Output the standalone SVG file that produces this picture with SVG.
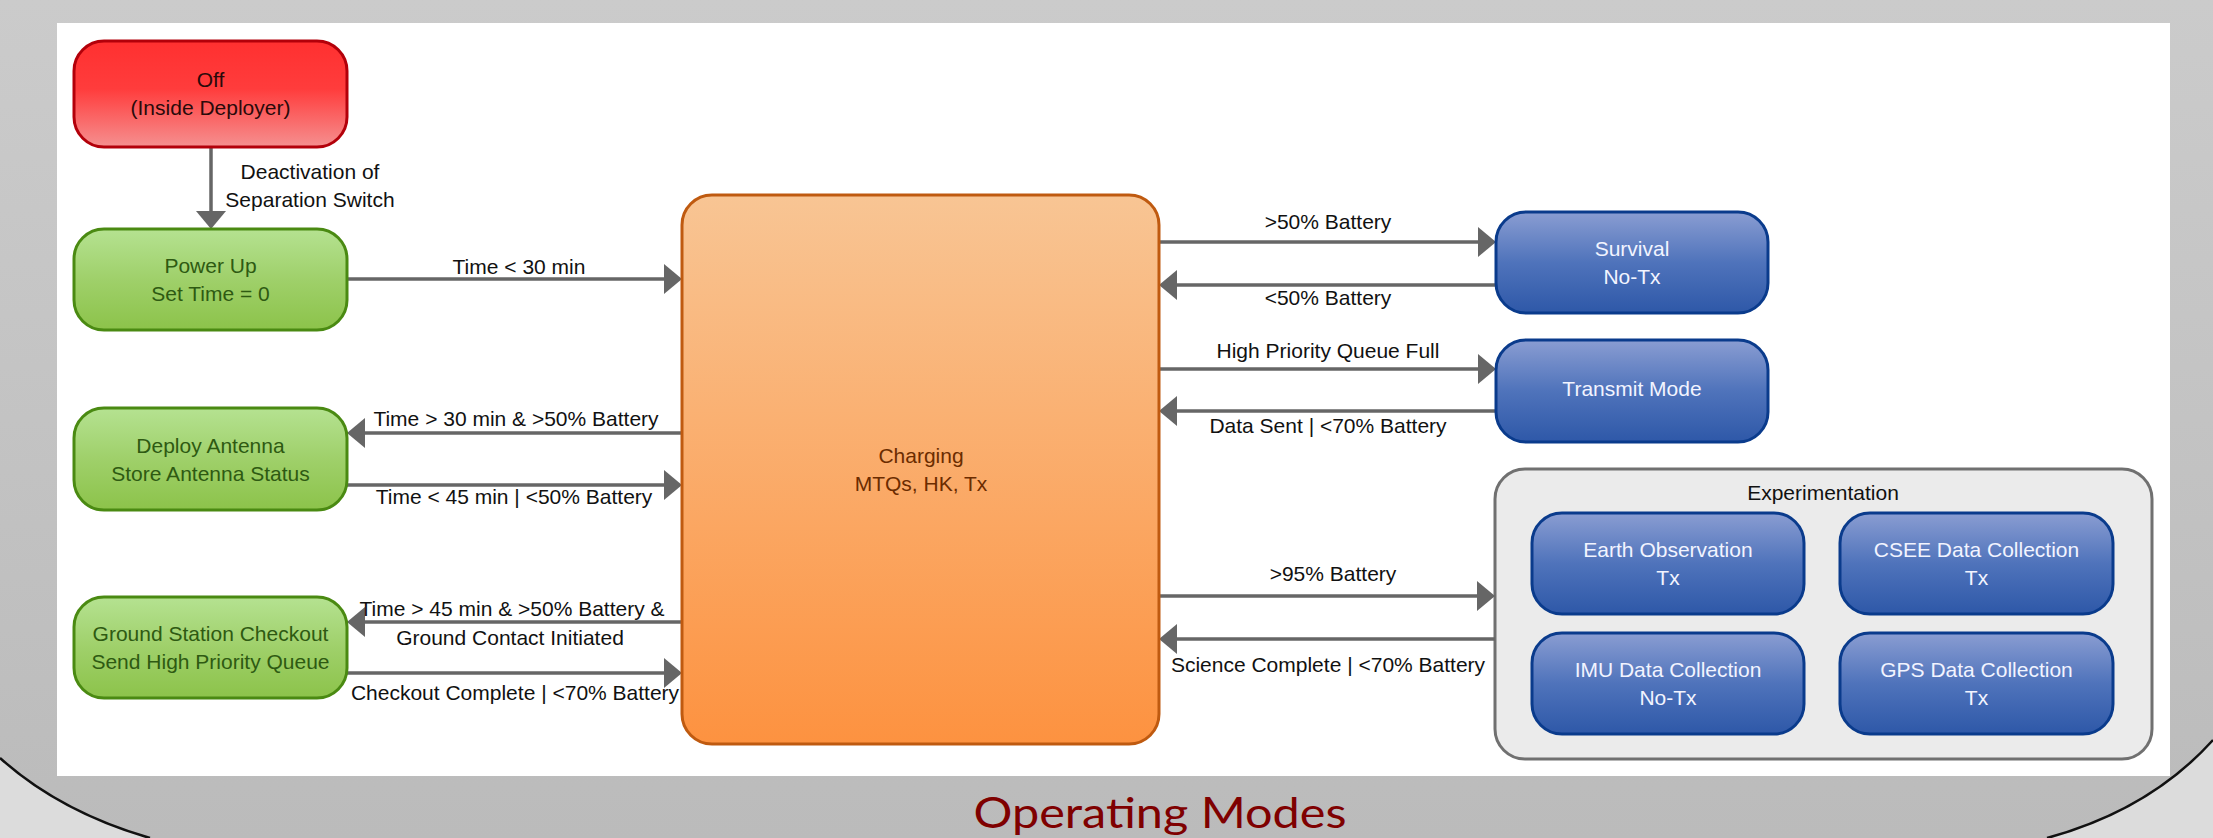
<svg xmlns="http://www.w3.org/2000/svg" width="2213" height="838" viewBox="0 0 2213 838">
<defs>
<linearGradient id="bg" x1="0" y1="0" x2="0" y2="1"><stop offset="0" stop-color="#cbcbcb"/><stop offset="1" stop-color="#bbbbbb"/></linearGradient>
<linearGradient id="gRed" x1="0" y1="0" x2="0" y2="1"><stop offset="0" stop-color="#ff3030"/><stop offset="0.45" stop-color="#ff3c3c"/><stop offset="1" stop-color="#f59090"/></linearGradient>
<linearGradient id="gGreen" x1="0" y1="0" x2="0" y2="1"><stop offset="0" stop-color="#b5e291"/><stop offset="0.5" stop-color="#9fd06a"/><stop offset="1" stop-color="#8cc34a"/></linearGradient>
<linearGradient id="gOrange" x1="0" y1="0" x2="0" y2="1"><stop offset="0" stop-color="#f8c594"/><stop offset="1" stop-color="#fd9240"/></linearGradient>
<linearGradient id="gBlue" x1="0" y1="0" x2="0" y2="1"><stop offset="0" stop-color="#8a9dd2"/><stop offset="0.5" stop-color="#4f73bb"/><stop offset="1" stop-color="#2e58a8"/></linearGradient>
<style>
text{font-family:"Liberation Sans",Arial,sans-serif;font-size:21px;text-anchor:middle;fill:#111}
.n{stroke-width:3}
.red{fill:url(#gRed);stroke:#b3000a}
.green{fill:url(#gGreen);stroke:#4a8a12}
.orange{fill:url(#gOrange);stroke:#bf5a10}
.blue{fill:url(#gBlue);stroke:#0a3b8c}
.tred{fill:#2a0a0a}
.tgreen{fill:#2e5a12}
.torange{fill:#6b2c00}
.tblue{fill:#f2f4ff}
.c line{stroke:#666;stroke-width:3.5}
.c polygon{fill:#666}
</style>
</defs>
<rect x="0" y="0" width="2213" height="838" fill="url(#bg)"/>
<path d="M0,758 Q60,812 150,838 L0,838 Z" fill="#dcdcdc"/>
<path d="M0,758 Q60,812 150,838" fill="none" stroke="#111" stroke-width="2.5"/>
<path d="M2047,838 Q2150,810 2213,740 L2213,838 Z" fill="#dcdcdc"/>
<path d="M2047,838 Q2150,810 2213,740" fill="none" stroke="#111" stroke-width="2.5"/>
<rect x="57" y="23" width="2113" height="753" fill="#ffffff"/>

<g id="experimentation">
<rect x="1495" y="469" width="657" height="290" rx="30" fill="#ebebeb" stroke="#707070" stroke-width="3"/>
<text x="1823" y="500">Experimentation</text>
</g>

<g class="c" id="connectors">
<line x1="211" y1="147" x2="211" y2="212"/><polygon points="196,211 226,211 211,229"/>
<line x1="347" y1="279" x2="665" y2="279"/><polygon points="664,264 664,294 682,279"/>
<line x1="682" y1="433" x2="364" y2="433"/><polygon points="365,418 365,448 347,433"/>
<line x1="347" y1="485" x2="665" y2="485"/><polygon points="664,470 664,500 682,485"/>
<line x1="682" y1="622" x2="364" y2="622"/><polygon points="365,607 365,637 347,622"/>
<line x1="347" y1="673" x2="665" y2="673"/><polygon points="664,658 664,688 682,673"/>
<line x1="1159" y1="242" x2="1479" y2="242"/><polygon points="1478,227 1478,257 1496,242"/>
<line x1="1496" y1="285" x2="1176" y2="285"/><polygon points="1177,270 1177,300 1159,285"/>
<line x1="1159" y1="369" x2="1479" y2="369"/><polygon points="1478,354 1478,384 1496,369"/>
<line x1="1496" y1="411" x2="1176" y2="411"/><polygon points="1177,396 1177,426 1159,411"/>
<line x1="1159" y1="596" x2="1478" y2="596"/><polygon points="1477,581 1477,611 1495,596"/>
<line x1="1495" y1="639" x2="1176" y2="639"/><polygon points="1177,624 1177,654 1159,639"/>
<text x="310" y="179" style="text-anchor:middle">Deactivation of</text>
<text x="310" y="207">Separation Switch</text>
<text x="519" y="274">Time &lt; 30 min</text>
<text x="516" y="426">Time &gt; 30 min &amp; &gt;50% Battery</text>
<text x="514" y="504">Time &lt; 45 min | &lt;50% Battery</text>
<text x="512" y="616">Time &gt; 45 min &amp; &gt;50% Battery &amp;</text>
<text x="510" y="645">Ground Contact Initiated</text>
<text x="515" y="700">Checkout Complete | &lt;70% Battery</text>
<text x="1328" y="229">&gt;50% Battery</text>
<text x="1328" y="305">&lt;50% Battery</text>
<text x="1328" y="358">High Priority Queue Full</text>
<text x="1328" y="433">Data Sent | &lt;70% Battery</text>
<text x="1333" y="581">&gt;95% Battery</text>
<text x="1328" y="672">Science Complete | &lt;70% Battery</text>
</g>

<g id="off">
<rect class="n red" x="74" y="41" width="273" height="106" rx="30"/>
<text class="tred" x="210.5" y="87">Off</text>
<text class="tred" x="210.5" y="115">(Inside Deployer)</text>
</g>
<g id="powerup">
<rect class="n green" x="74" y="229" width="273" height="101" rx="30"/>
<text class="tgreen" x="210.5" y="273">Power Up</text>
<text class="tgreen" x="210.5" y="301">Set Time = 0</text>
</g>
<g id="deploy">
<rect class="n green" x="74" y="408" width="273" height="102" rx="30"/>
<text class="tgreen" x="210.5" y="453">Deploy Antenna</text>
<text class="tgreen" x="210.5" y="481">Store Antenna Status</text>
</g>
<g id="ground">
<rect class="n green" x="74" y="597" width="273" height="101" rx="30"/>
<text class="tgreen" x="210.5" y="641">Ground Station Checkout</text>
<text class="tgreen" x="210.5" y="669">Send High Priority Queue</text>
</g>
<g id="charging">
<rect class="n orange" x="682" y="195" width="477" height="549" rx="30"/>
<text class="torange" x="921" y="463">Charging</text>
<text class="torange" x="921" y="491">MTQs, HK, Tx</text>
</g>
<g id="survival">
<rect class="n blue" x="1496" y="212" width="272" height="101" rx="30"/>
<text class="tblue" x="1632" y="256">Survival</text>
<text class="tblue" x="1632" y="284">No-Tx</text>
</g>
<g id="transmit">
<rect class="n blue" x="1496" y="340" width="272" height="102" rx="30"/>
<text class="tblue" x="1632" y="396">Transmit Mode</text>
</g>
<g id="earth">
<rect class="n blue" x="1532" y="513" width="272" height="101" rx="30"/>
<text class="tblue" x="1668" y="557">Earth Observation</text>
<text class="tblue" x="1668" y="585">Tx</text>
</g>
<g id="csee">
<rect class="n blue" x="1840" y="513" width="273" height="101" rx="30"/>
<text class="tblue" x="1976.5" y="557">CSEE Data Collection</text>
<text class="tblue" x="1976.5" y="585">Tx</text>
</g>
<g id="imu">
<rect class="n blue" x="1532" y="633" width="272" height="101" rx="30"/>
<text class="tblue" x="1668" y="677">IMU Data Collection</text>
<text class="tblue" x="1668" y="705">No-Tx</text>
</g>
<g id="gps">
<rect class="n blue" x="1840" y="633" width="273" height="101" rx="30"/>
<text class="tblue" x="1976.5" y="677">GPS Data Collection</text>
<text class="tblue" x="1976.5" y="705">Tx</text>
</g>

<text x="1160" y="828" style="font-family:Lato,'Open Sans',sans-serif;font-size:43px;fill:#7f0000" textLength="373" lengthAdjust="spacingAndGlyphs">Operating Modes</text>
</svg>
